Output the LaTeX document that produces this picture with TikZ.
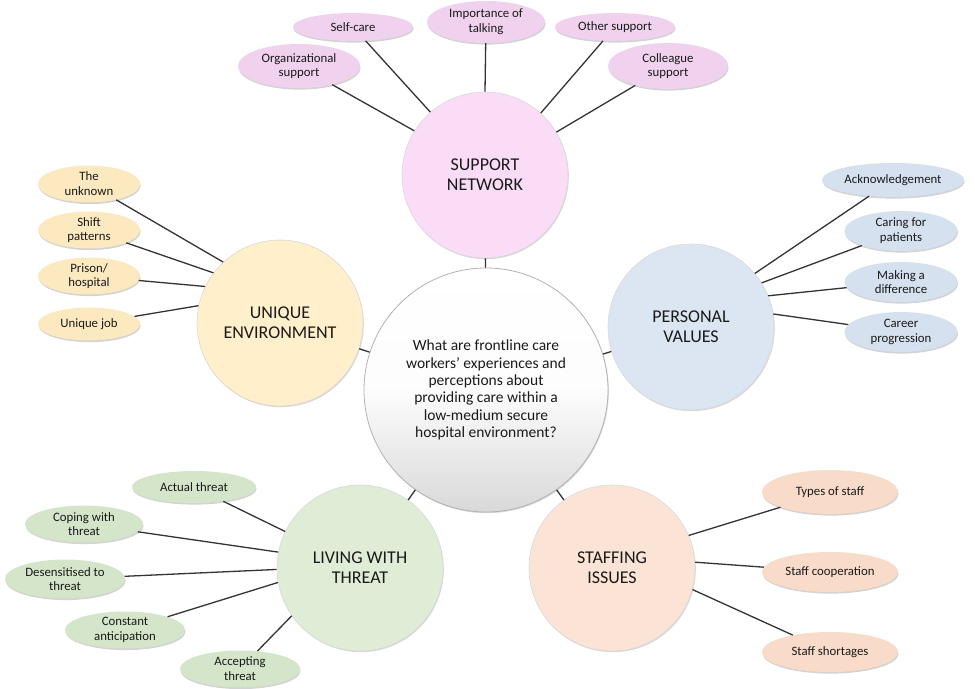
\documentclass[tikz,border=0pt]{standalone}
\usepackage{fontspec}
\setmainfont{Carlito}
\usetikzlibrary{shapes.geometric,shadows}
\definecolor{pinkhub}{HTML}{FADCF7}
\definecolor{pinkleaf}{HTML}{F1D2EE}
\definecolor{yelhub}{HTML}{FFEFCA}
\definecolor{yelleaf}{HTML}{FCE9C0}
\definecolor{bluhub}{HTML}{DCE6F2}
\definecolor{bluleaf}{HTML}{D5E1EF}
\definecolor{grnhub}{HTML}{DFECD6}
\definecolor{grnleaf}{HTML}{D5E5CA}
\definecolor{pchhub}{HTML}{FBE4D5}
\definecolor{pchleaf}{HTML}{F8DCC9}
\definecolor{txt}{HTML}{1A1A1A}
\definecolor{linec}{HTML}{333333}
\tikzset{
  hub/.style={circle, minimum size=166bp, inner sep=0pt, draw=black!15, line width=0.6bp,
    text=txt, align=center, font=\fontsize{18bp}{20bp}\selectfont,
    drop shadow={shadow xshift=0.8bp, shadow yshift=-1.2bp, opacity=0.25, fill=black!60}},
  centre/.style={circle, minimum size=244bp, inner sep=0pt, draw=black!30, line width=0.8bp,
    top color=white, bottom color=black!15, middle color=black!1, text=txt, align=center,
    font=\fontsize{15.5bp}{17.3bp}\selectfont,
    drop shadow={shadow xshift=0.8bp, shadow yshift=-1.2bp, opacity=0.25, fill=black!60}},
  leaf/.style={ellipse, inner sep=-10bp, text=txt, align=center,
    font=\fontsize{12.8bp}{14.8bp}\selectfont,
    drop shadow={shadow xshift=0.6bp, shadow yshift=-1.6bp, opacity=0.35, fill=black!50}},
  link/.style={draw=linec, line width=1.3bp}
}
\begin{document}
\begin{tikzpicture}[x=1bp,y=-1bp]
\useasboundingbox (0,0) rectangle (975,689);
% hubs
\node[centre] (c) at (486,390) {What are frontline care\\workers’ experiences and\\perceptions about\\providing care within a\\low-medium secure\\hospital environment?};
\node[hub, fill=pinkhub] (sn) at (485,175) {SUPPORT\\NETWORK};
\node[hub, fill=yelhub] (ue) at (280,323) {UNIQUE\\ENVIRONMENT};
\node[hub, fill=bluhub] (pv) at (691,327) {PERSONAL\\VALUES};
\node[hub, fill=grnhub] (lt) at (360,568) {LIVING WITH\\THREAT};
\node[hub, fill=pchhub] (si) at (612,568) {STAFFING\\ISSUES};
% support network leaves
\node[leaf, fill=pinkleaf, minimum width=122bp, minimum height=44bp] (sn1) at (299,66) {Organizational\\support};
\node[leaf, fill=pinkleaf, minimum width=120bp, minimum height=28bp] (sn2) at (353,27) {Self-care};
\node[leaf, fill=pinkleaf, minimum width=118bp, minimum height=42bp] (sn3) at (486,22) {Importance of\\talking};
\node[leaf, fill=pinkleaf, minimum width=120bp, minimum height=28bp] (sn4) at (615,27) {Other support};
\node[leaf, fill=pinkleaf, minimum width=120bp, minimum height=46bp] (sn5) at (668,66) {Colleague\\support};
% unique environment leaves
\node[leaf, fill=yelleaf, minimum width=102bp, minimum height=37bp] (ue1) at (89,184) {The\\unknown};
\node[leaf, fill=yelleaf, minimum width=102bp, minimum height=37bp] (ue2) at (89,230) {Shift\\patterns};
\node[leaf, fill=yelleaf, minimum width=102bp, minimum height=37bp] (ue3) at (89,276) {Prison/\\hospital};
\node[leaf, fill=yelleaf, minimum width=102bp, minimum height=33bp] (ue4) at (89,324) {Unique job};
% personal values leaves
\node[leaf, fill=bluleaf, minimum width=142bp, minimum height=34bp] (pv1) at (893,180) {Acknowledgement};
\node[leaf, fill=bluleaf, minimum width=113bp, minimum height=40bp] (pv2) at (901,231) {Caring for\\patients};
\node[leaf, fill=bluleaf, minimum width=113bp, minimum height=40bp] (pv3) at (901,282) {Making a\\difference};
\node[leaf, fill=bluleaf, minimum width=113bp, minimum height=40bp] (pv4) at (901,332) {Career\\progression};
% living with threat leaves
\node[leaf, fill=grnleaf, minimum width=124bp, minimum height=32bp] (lt1) at (194,487) {Actual threat};
\node[leaf, fill=grnleaf, minimum width=118bp, minimum height=37bp] (lt2) at (84,524) {Coping with\\threat};
\node[leaf, fill=grnleaf, minimum width=120bp, minimum height=39bp] (lt3) at (65,579) {Desensitised to\\threat};
\node[leaf, fill=grnleaf, minimum width=120bp, minimum height=37bp] (lt4) at (125,630) {Constant\\anticipation};
\node[leaf, fill=grnleaf, minimum width=120bp, minimum height=37bp] (lt5) at (240,669) {Accepting\\threat};
% staffing leaves
\node[leaf, fill=pchleaf, minimum width=136bp, minimum height=44bp] (si1) at (830,492) {Types of staff};
\node[leaf, fill=pchleaf, minimum width=136bp, minimum height=40bp] (si2) at (830,572) {Staff cooperation};
\node[leaf, fill=pchleaf, minimum width=136bp, minimum height=40bp] (si3) at (830,652) {Staff shortages};
% hub to centre
\draw[link] (c) -- (sn);
\draw[link] (c) -- (ue);
\draw[link] (c) -- (pv);
\draw[link] (c) -- (lt);
\draw[link] (c) -- (si);
% support network
\draw[link] (sn1) -- (sn.148);
\draw[link] (sn2) -- (sn.131);
\draw[link] (sn3) -- (sn.90);
\draw[link] (sn4) -- (sn.48);
\draw[link] (sn5) -- (sn.31);
% unique environment
\draw[link] (ue1) -- (ue.133);
\draw[link] (ue2) -- (ue.143);
\draw[link] (ue3) -- (ue.154);
\draw[link] (ue4) -- (ue.168);
% personal values
\draw[link] (pv1) -- (pv.40);
\draw[link] (pv2) -- (pv.32);
\draw[link] (pv3) -- (pv.22);
\draw[link] (pv4) -- (pv.9);
% living with threat
\draw[link] (lt1) -- (lt.154);
\draw[link] (lt2) -- (lt.169);
\draw[link] (lt3) -- (lt.181);
\draw[link] (lt4) -- (lt.190);
\draw[link] (lt5) -- (lt.215);
% staffing
\draw[link] (si1) -- (si.23);
\draw[link] (si2) -- (si.4);
\draw[link] (si3) -- (si.-15);
\end{tikzpicture}
\end{document}
